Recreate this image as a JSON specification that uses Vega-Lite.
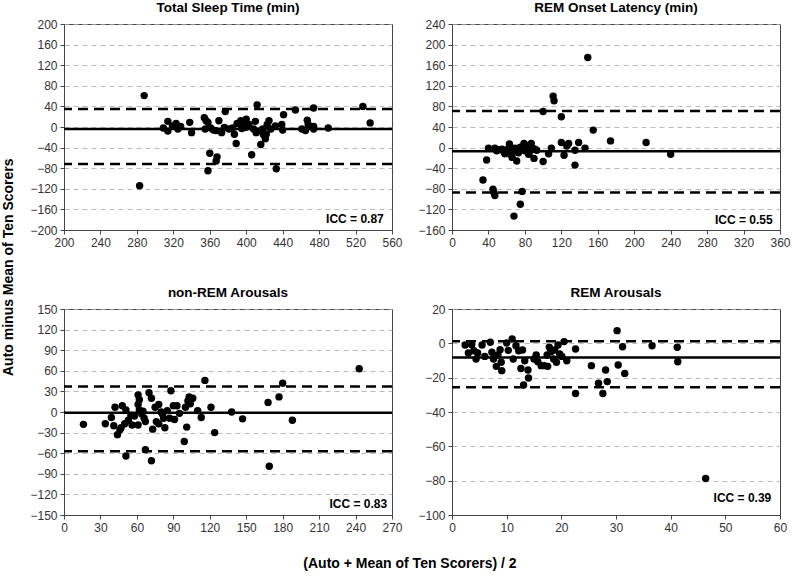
{
  "$schema": "https://vega.github.io/schema/vega-lite/v6.json",
  "padding": {"left": 2, "top": 0, "right": 5, "bottom": 5},
  "config": {
    "font": "Liberation Sans",
    "view": {"stroke": "#444", "strokeWidth": 1},
    "axis": {"labelFont": "Liberation Sans", "labelFontSize": 12, "labelColor": "#333", "domainColor": "#444", "tickColor": "#444", "tickSize": 4, "gridColor": "#aaa", "gridDash": [5, 4], "gridWidth": 0.8, "labelFlush": false, "labelOverlap": false, "labelBound": false, "title": null, "tickCount": 30},
    "axisX": {"grid": false, "labelPadding": 3},
    "axisY": {"grid": true, "labelPadding": 3},
    "title": {"font": "Liberation Sans", "fontSize": 13.5, "fontWeight": "bold", "color": "#000", "offset": 0, "frame": "group"}
  },
  "datasets": {
    "tst": [
      {"x":288,"y":61},{"x":283,"y":-114},{"x":309,"y":-2},{"x":314,"y":11},{"x":314,"y":-8},{"x":319,"y":2},{"x":323,"y":7},{"x":325,"y":-4},{"x":328,"y":1},{"x":338,"y":9},{"x":340,"y":-11},{"x":354,"y":18},{"x":355,"y":-4},{"x":358,"y":9},{"x":360,"y":-51},{"x":358,"y":-85},{"x":361,"y":-2},{"x":367,"y":-7},{"x":367,"y":-66},{"x":368,"y":-58},{"x":370,"y":12},{"x":373,"y":-11},{"x":377,"y":30},{"x":376,"y":-1},{"x":381,"y":-4},{"x":387,"y":-14},{"x":389,"y":-32},{"x":390,"y":7},{"x":394,"y":12},{"x":397,"y":5},{"x":400,"y":15},{"x":399,"y":-1},{"x":403,"y":5},{"x":406,"y":-54},{"x":408,"y":-4},{"x":410,"y":11},{"x":412,"y":43},{"x":411,"y":-11},{"x":416,"y":-34},{"x":418,"y":-4},{"x":421,"y":-23},{"x":422,"y":-14},{"x":423,"y":5},{"x":425,"y":12},{"x":427,"y":-4},{"x":433,"y":-81},{"x":432,"y":2},{"x":439,"y":5},{"x":440,"y":-6},{"x":441,"y":24},{"x":454,"y":33},{"x":461,"y":-4},{"x":465,"y":-7},{"x":467,"y":13},{"x":468,"y":5},{"x":474,"y":37},{"x":474,"y":1},{"x":474,"y":-4},{"x":490,"y":-2},{"x":528,"y":40},{"x":536,"y":8},{"x":356,"y":12},{"x":364,"y":-6},{"x":385,"y":-2},{"x":395,"y":-3},{"x":402,"y":3},{"x":413,"y":-8},{"x":419,"y":-15}
    ],
    "tst_stats": [{"kind":"mean","y":-4},{"kind":"limit","y":35},{"kind":"limit","y":-72}],
    "rol": [
      {"x":149,"y":175},{"x":111,"y":100},{"x":112,"y":91},{"x":100,"y":70},{"x":120,"y":60},{"x":155,"y":34},{"x":174,"y":13},{"x":213,"y":10},{"x":240,"y":-13},{"x":34,"y":-63},{"x":38,"y":-24},{"x":40,"y":-1},{"x":45,"y":-81},{"x":46,"y":-87},{"x":47,"y":-93},{"x":77,"y":-85},{"x":75,"y":-110},{"x":68,"y":-133},{"x":135,"y":-34},{"x":100,"y":-27},{"x":47,"y":-1},{"x":49,"y":-6},{"x":55,"y":-3},{"x":57,"y":-8},{"x":60,"y":-5},{"x":63,"y":7},{"x":64,"y":-13},{"x":66,"y":-19},{"x":69,"y":-1},{"x":71,"y":-26},{"x":73,"y":-10},{"x":75,"y":1},{"x":79,"y":8},{"x":80,"y":-6},{"x":83,"y":3},{"x":84,"y":-13},{"x":87,"y":8},{"x":88,"y":0},{"x":90,"y":-21},{"x":91,"y":-3},{"x":106,"y":-12},{"x":109,"y":-1},{"x":120,"y":10},{"x":123,"y":-15},{"x":126,"y":3},{"x":128,"y":8},{"x":135,"y":-5},{"x":139,"y":10},{"x":146,"y":-1},{"x":52,"y":-4},{"x":58,"y":-12},{"x":62,"y":-2},{"x":67,"y":-8},{"x":81,"y":-2},{"x":85,"y":-9},{"x":93,"y":-5},{"x":86,"y":3}
    ],
    "rol_stats": [{"kind":"mean","y":-7},{"kind":"limit","y":71},{"kind":"limit","y":-87}],
    "nrem": [
      {"x":243,"y":63},{"x":116,"y":46},{"x":180,"y":42},{"x":177,"y":22},{"x":168,"y":14},{"x":188,"y":-12},{"x":169,"y":-79},{"x":16,"y":-18},{"x":34,"y":-17},{"x":39,"y":-8},{"x":42,"y":7},{"x":41,"y":-20},{"x":44,"y":-33},{"x":47,"y":-23},{"x":48,"y":9},{"x":51,"y":3},{"x":50,"y":-17},{"x":51,"y":-64},{"x":55,"y":-5},{"x":56,"y":-19},{"x":61,"y":25},{"x":62,"y":18},{"x":61,"y":11},{"x":62,"y":3},{"x":61,"y":-19},{"x":65,"y":1},{"x":66,"y":-9},{"x":67,"y":-55},{"x":67,"y":-14},{"x":70,"y":28},{"x":72,"y":20},{"x":73,"y":-25},{"x":72,"y":-71},{"x":75,"y":7},{"x":78,"y":11},{"x":78,"y":-17},{"x":81,"y":-3},{"x":82,"y":-9},{"x":83,"y":-23},{"x":85,"y":2},{"x":88,"y":31},{"x":87,"y":-9},{"x":90,"y":9},{"x":91,"y":-11},{"x":93,"y":9},{"x":99,"y":-43},{"x":100,"y":7},{"x":101,"y":-22},{"x":103,"y":22},{"x":104,"y":12},{"x":106,"y":20},{"x":110,"y":2},{"x":113,"y":-8},{"x":121,"y":7},{"x":124,"y":-30},{"x":138,"y":0},{"x":147,"y":-10},{"x":46,"y":-26},{"x":53,"y":-12},{"x":58,"y":-6},{"x":64,"y":-3},{"x":76,"y":-14},{"x":80,"y":0},{"x":95,"y":-2},{"x":102,"y":16}
    ],
    "nrem_stats": [{"kind":"mean","y":-1},{"kind":"limit","y":37},{"kind":"limit","y":-57}],
    "rema": [
      {"x":46.4,"y":-78.7},{"x":30.2,"y":7.4},{"x":30.4,"y":-12.6},{"x":31.2,"y":-2},{"x":31.6,"y":-17.5},{"x":36.6,"y":-1.4},{"x":41.2,"y":-2.3},{"x":41.3,"y":-10.7},{"x":22.6,"y":-3.3},{"x":22.6,"y":-29.2},{"x":25.5,"y":-13},{"x":26.8,"y":-23.3},{"x":27.6,"y":-29.2},{"x":28.1,"y":-15.5},{"x":28.4,"y":-22.3},{"x":2.4,"y":-1},{"x":3.0,"y":-5.6},{"x":3.6,"y":-0.8},{"x":4.0,"y":-4.3},{"x":4.4,"y":-9.1},{"x":4.7,"y":-5.6},{"x":5.5,"y":-1},{"x":6.0,"y":-7.6},{"x":7.0,"y":0.6},{"x":7.3,"y":-5.2},{"x":7.6,"y":-9.1},{"x":8.1,"y":-13.4},{"x":8.4,"y":-6.8},{"x":8.8,"y":-3.7},{"x":9.0,"y":-11},{"x":9.1,"y":-15.9},{"x":10.0,"y":0.2},{"x":10.3,"y":-4.1},{"x":11.0,"y":2.5},{"x":11.2,"y":-9.1},{"x":11.7,"y":-1.4},{"x":12.2,"y":-4.3},{"x":12.6,"y":-14.7},{"x":12.9,"y":-3.9},{"x":13.1,"y":-24.3},{"x":13.3,"y":-10.1},{"x":13.9,"y":-15.5},{"x":14.0,"y":-20.2},{"x":15.0,"y":-9.1},{"x":15.4,"y":-6.8},{"x":15.7,"y":-10.7},{"x":16.3,"y":-13},{"x":16.9,"y":-13},{"x":17.4,"y":-6.8},{"x":17.5,"y":-13.4},{"x":17.8,"y":-2.3},{"x":18.1,"y":-4.9},{"x":18.6,"y":-9.1},{"x":19.1,"y":-11},{"x":19.4,"y":-1},{"x":19.7,"y":-6.2},{"x":20.1,"y":-7.6},{"x":20.5,"y":1},{"x":21.0,"y":-10.1},{"x":18.8,"y":-3.9}
    ],
    "rema_stats": [{"kind":"mean","y":-8.2},{"kind":"limit","y":1.2},{"kind":"limit","y":-25.6}]
  },
  "title": {"text": "Auto minus Mean of Ten Scorers", "orient": "left", "anchor": "middle", "offset": 13, "frame": "bounds", "fontSize": 14, "dx": 18},
  "hconcat": [
    {
      "title": {"text": "(Auto + Mean of Ten Scorers) / 2", "orient": "bottom", "anchor": "middle", "offset": 23, "frame": "bounds", "fontSize": 14},
      "spacing": 36,
      "vconcat": [
        {
          "spacing": 14,
          "hconcat": [
            {
              "width": 328, "height": 206,
              "title": "Total Sleep Time (min)",
              "layer": [
                {"data": {"name": "tst_stats"}, "mark": {"type": "rule", "color": "#000", "strokeWidth": 2.5},
                 "encoding": {"y": {"field": "y", "type": "quantitative", "axis": {"values": [-200,-160,-120,-80,-40,0,40,80,120,160,200], "tickCount": 30}},
                              "strokeDash": {"field": "kind", "type": "nominal", "scale": {"domain": ["mean", "limit"], "range": [[1, 0], [10, 6]]}, "legend": null}}},
                {"data": {"name": "tst"}, "mark": {"type": "circle", "size": 55, "color": "#000", "opacity": 1},
                 "encoding": {
                   "x": {"field": "x", "type": "quantitative", "scale": {"domain": [200, 560], "nice": false}, "axis": {"values": [200,240,280,320,360,400,440,480,520,560], "tickCount": 30}},
                   "y": {"field": "y", "type": "quantitative", "scale": {"domain": [-200, 200], "nice": false}, "axis": {"values": [-200,-160,-120,-80,-40,0,40,80,120,160,200], "tickCount": 30}}}},
                {"data": {"values": [{"x": 551, "y": -178, "label": "ICC = 0.87"}]}, "mark": {"type": "text", "align": "right", "baseline": "middle", "fontWeight": "bold", "fontSize": 12, "font": "Liberation Sans"},
                 "encoding": {"x": {"field": "x", "type": "quantitative"}, "y": {"field": "y", "type": "quantitative"}, "text": {"field": "label"}}}
              ]
            },
            {
              "width": 328, "height": 206,
              "title": "REM Onset Latency (min)",
              "layer": [
                {"data": {"name": "rol_stats"}, "mark": {"type": "rule", "color": "#000", "strokeWidth": 2.5},
                 "encoding": {"y": {"field": "y", "type": "quantitative", "axis": {"values": [-160,-120,-80,-40,0,40,80,120,160,200,240], "tickCount": 30}},
                              "strokeDash": {"field": "kind", "type": "nominal", "scale": {"domain": ["mean", "limit"], "range": [[1, 0], [10, 6]]}, "legend": null}}},
                {"data": {"name": "rol"}, "mark": {"type": "circle", "size": 55, "color": "#000", "opacity": 1},
                 "encoding": {
                   "x": {"field": "x", "type": "quantitative", "scale": {"domain": [0, 360], "nice": false}, "axis": {"values": [0,40,80,120,160,200,240,280,320,360], "tickCount": 30}},
                   "y": {"field": "y", "type": "quantitative", "scale": {"domain": [-160, 240], "nice": false}, "axis": {"values": [-160,-120,-80,-40,0,40,80,120,160,200,240], "tickCount": 30}}}},
                {"data": {"values": [{"x": 352, "y": -141, "label": "ICC = 0.55"}]}, "mark": {"type": "text", "align": "right", "baseline": "middle", "fontWeight": "bold", "fontSize": 12, "font": "Liberation Sans"},
                 "encoding": {"x": {"field": "x", "type": "quantitative"}, "y": {"field": "y", "type": "quantitative"}, "text": {"field": "label"}}}
              ]
            }
          ]
        },
        {
          "spacing": 14,
          "hconcat": [
            {
              "width": 328, "height": 206,
              "title": "non-REM Arousals",
              "layer": [
                {"data": {"name": "nrem_stats"}, "mark": {"type": "rule", "color": "#000", "strokeWidth": 2.5},
                 "encoding": {"y": {"field": "y", "type": "quantitative", "axis": {"values": [-150,-120,-90,-60,-30,0,30,60,90,120,150], "tickCount": 30}},
                              "strokeDash": {"field": "kind", "type": "nominal", "scale": {"domain": ["mean", "limit"], "range": [[1, 0], [10, 6]]}, "legend": null}}},
                {"data": {"name": "nrem"}, "mark": {"type": "circle", "size": 55, "color": "#000", "opacity": 1},
                 "encoding": {
                   "x": {"field": "x", "type": "quantitative", "scale": {"domain": [0, 270], "nice": false}, "axis": {"values": [0,30,60,90,120,150,180,210,240,270], "tickCount": 30}},
                   "y": {"field": "y", "type": "quantitative", "scale": {"domain": [-150, 150], "nice": false}, "axis": {"values": [-150,-120,-90,-60,-30,0,30,60,90,120,150], "tickCount": 30}}}},
                {"data": {"values": [{"x": 266, "y": -134, "label": "ICC = 0.83"}]}, "mark": {"type": "text", "align": "right", "baseline": "middle", "fontWeight": "bold", "fontSize": 12, "font": "Liberation Sans"},
                 "encoding": {"x": {"field": "x", "type": "quantitative"}, "y": {"field": "y", "type": "quantitative"}, "text": {"field": "label"}}}
              ]
            },
            {
              "width": 328, "height": 206,
              "title": "REM Arousals",
              "layer": [
                {"data": {"name": "rema_stats"}, "mark": {"type": "rule", "color": "#000", "strokeWidth": 2.5},
                 "encoding": {"y": {"field": "y", "type": "quantitative", "axis": {"values": [-100,-80,-60,-40,-20,0,20], "tickCount": 30}},
                              "strokeDash": {"field": "kind", "type": "nominal", "scale": {"domain": ["mean", "limit"], "range": [[1, 0], [10, 6]]}, "legend": null}}},
                {"data": {"name": "rema"}, "mark": {"type": "circle", "size": 55, "color": "#000", "opacity": 1},
                 "encoding": {
                   "x": {"field": "x", "type": "quantitative", "scale": {"domain": [0, 60], "nice": false}, "axis": {"values": [0,10,20,30,40,50,60], "tickCount": 30}},
                   "y": {"field": "y", "type": "quantitative", "scale": {"domain": [-100, 20], "nice": false}, "axis": {"values": [-100,-80,-60,-40,-20,0,20], "tickCount": 30}}}},
                {"data": {"values": [{"x": 58.4, "y": -90, "label": "ICC = 0.39"}]}, "mark": {"type": "text", "align": "right", "baseline": "middle", "fontWeight": "bold", "fontSize": 12, "font": "Liberation Sans"},
                 "encoding": {"x": {"field": "x", "type": "quantitative"}, "y": {"field": "y", "type": "quantitative"}, "text": {"field": "label"}}}
              ]
            }
          ]
        }
      ]
    }
  ]
}
